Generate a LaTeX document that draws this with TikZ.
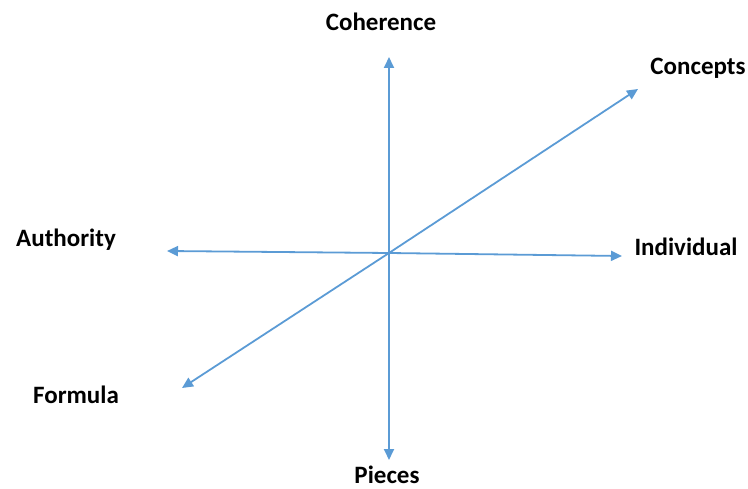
\documentclass[tikz,border=0pt]{standalone}
\usepackage{fontspec}
\setmainfont{Carlito}
\usetikzlibrary{arrows.meta}
\definecolor{axisblue}{RGB}{91,155,213}

\begin{document}
\begin{tikzpicture}[x=1pt, y=-1pt,
        axis/.style={axisblue, line width=1.8pt, -{Triangle[length=11pt, width=10pt]}},
        lbl/.style={font=\fontsize{25}{28}\selectfont\bfseries, text=black, inner sep=0pt}]
        \useasboundingbox (0,0) rectangle (748,489);
        % centre and arrow tips
        \coordinate (O) at (389,253);
        \coordinate (N) at (389,57);
        \coordinate (S) at (389,460);
        \coordinate (W) at (167,251);
        \coordinate (E) at (622,256);
        \coordinate (NE) at (638,89);
        \coordinate (SW) at (182,388);
        \draw[axis] (O) -- (N);
        \draw[axis] (O) -- (S);
        \draw[axis] (O) -- (W);
        \draw[axis] (O) -- (E);
        \draw[axis] (O) -- (NE);
        \draw[axis] (O) -- (SW);
        % labels
        \node[lbl] (coherence) at (381,22) {Coherence};
        \node[lbl] (concepts) at (698,68) {Concepts};
        \node[lbl] (authority) at (66,240) {Authority};
        \node[lbl] (individual) at (686,247) {Individual};
        \node[lbl] (formula) at (76,395) {Formula};
        \node[lbl] (pieces) at (387,475) {Pieces};
    \end{tikzpicture}
\end{document}
